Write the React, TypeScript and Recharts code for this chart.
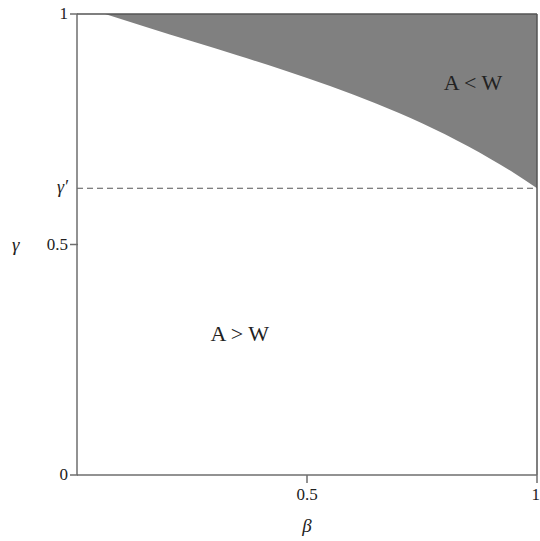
import React from "react";
import {
  Area,
  ComposedChart,
  Label,
  ReferenceDot,
  ReferenceLine,
  XAxis,
  YAxis,
} from "recharts";

// boundary curve between the A > W and A < W regions
const betaValues = [0.061, 0.15, 0.25, 0.35, 0.45, 0.55, 0.65, 0.75, 0.85, 0.9, 0.95, 1];
const gammaBoundary = [1, 0.972, 0.941, 0.91, 0.878, 0.844, 0.806, 0.763, 0.713, 0.685, 0.655, 0.622];

const gammaPrime = 0.622;
const xTicks = [0.5, 1];
const yTicks = [0, 0.5, gammaPrime, 1];

const regionLabels = [
  { beta: 0.861, gamma: 0.852, text: "A < W" },
  { beta: 0.354, gamma: 0.308, text: "A > W" },
];

const data = betaValues.map((b, i) => ({ beta: b, range: [gammaBoundary[i], 1] }));

const FONT = "Liberation Serif, Times New Roman, serif";
const AXIS = "#6e6e6e";

function YTick(props: any) {
  const { x, y, payload } = props;
  const isPrime = payload.value === gammaPrime;
  const label = isPrime ? "γ′" : String(payload.value);
  return (
    <g>
      {!isPrime && <line x1={x + 1} x2={x + 9} y1={y} y2={y} stroke={AXIS} strokeWidth={1.5} />}
      <text
        x={x - 1}
        y={y}
        dy={5}
        textAnchor="end"
        fontFamily={FONT}
        fontSize={isPrime ? 18 : 17}
        fontStyle={isPrime ? "italic" : "normal"}
        fill="#222"
      >
        {label}
      </text>
    </g>
  );
}

export default function App() {
  return (
    <div style={{ position: "absolute", left: 0, top: 0, width: 540, height: 541, background: "#fff" }}>
      <ComposedChart
        width={540}
        height={541}
        data={data}
        margin={{ top: 14, right: 3, bottom: 36, left: 17 }}
      >
        <XAxis
          type="number"
          dataKey="beta"
          domain={[0, 1]}
          ticks={xTicks}
          tickFormatter={(v) => String(v)}
          axisLine={{ stroke: AXIS, strokeWidth: 1.5 }}
          tickLine={{ stroke: AXIS, strokeWidth: 1.5 }}
          tickSize={8}
          tickMargin={5}
          tick={{ fill: "#222", fontSize: 17, fontFamily: FONT }}
          height={30}
        >
          <Label
            value="β"
            position="bottom"
            offset={14}
            style={{ fontFamily: FONT, fontStyle: "italic", fontSize: 19, fill: "#222" }}
          />
        </XAxis>
        <YAxis
          type="number"
          domain={[0, 1]}
          ticks={yTicks}
          interval={0}
          axisLine={{ stroke: AXIS, strokeWidth: 1.5 }}
          tickLine={false}
          tick={<YTick />}
          width={60}
        >
          <Label
            value="γ"
            position="insideLeft"
            offset={-5}
            style={{ fontFamily: FONT, fontStyle: "italic", fontSize: 19, fill: "#222" }}
          />
        </YAxis>
        <Area
          type="monotone"
          dataKey="range"
          stroke="none"
          fill="#808080"
          fillOpacity={1}
          isAnimationActive={false}
        />
        <ReferenceLine y={gammaPrime} stroke="#555" strokeDasharray="6 4" strokeWidth={1} />
        <ReferenceLine y={1} stroke="#555" strokeWidth={1.5} />
        <ReferenceLine x={1} stroke="#555" strokeWidth={1.5} />
        {regionLabels.map((r) => (
          <ReferenceDot key={r.text} x={r.beta} y={r.gamma} r={0} fill="none" stroke="none">
            <Label
              value={r.text}
              position="center"
              style={{ fontFamily: FONT, fontSize: 22, fill: "#222" }}
            />
          </ReferenceDot>
        ))}
      </ComposedChart>
    </div>
  );
}
